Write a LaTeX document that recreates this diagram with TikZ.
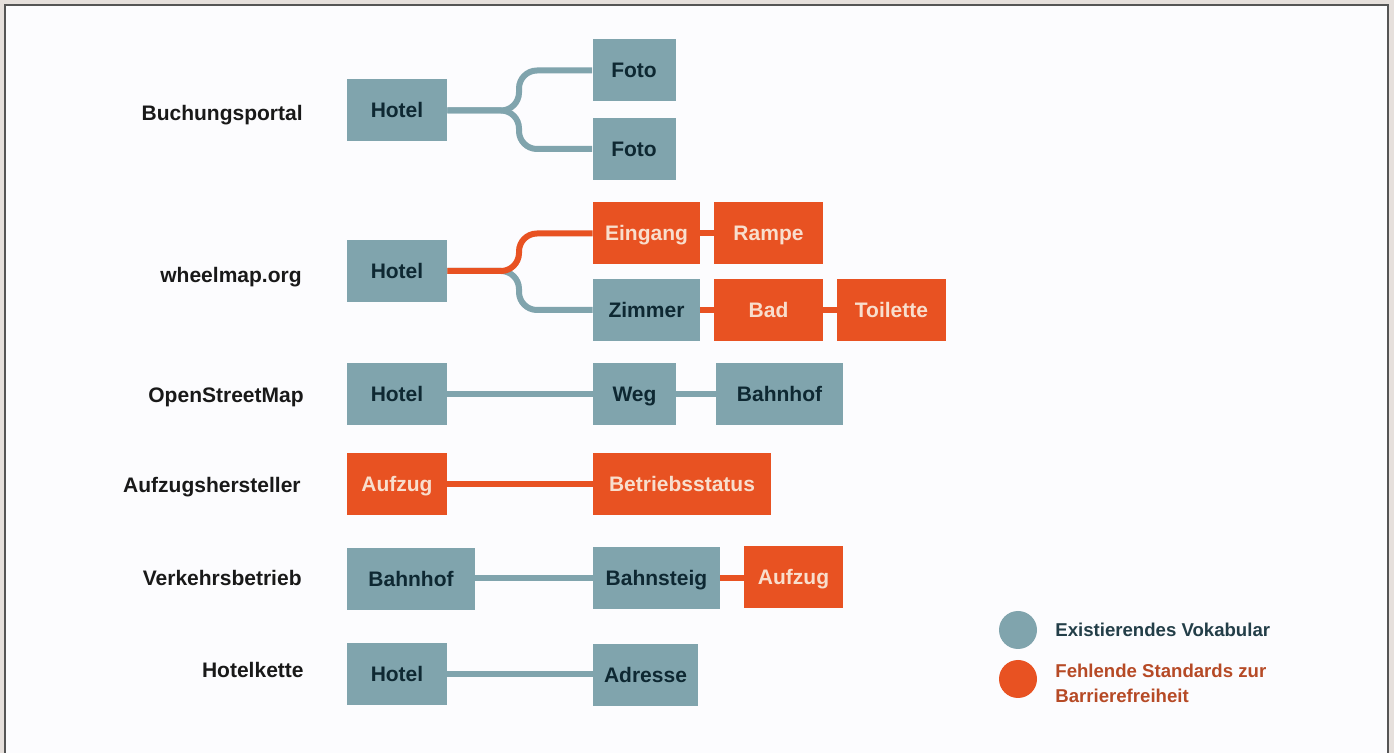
\documentclass[tikz,border=0pt]{standalone}
\usepackage{fontspec}
\setmainfont{Liberation Sans}
\usepackage{tikz}
\usetikzlibrary{positioning}

\definecolor{vocab}{RGB}{128,164,173}
\definecolor{missing}{RGB}{232,82,34}
\definecolor{vocabtext}{RGB}{14,40,50}
\definecolor{missingtext}{RGB}{248,222,205}
\definecolor{legvocab}{RGB}{35,62,72}
\definecolor{legmissing}{RGB}{182,74,38}
\definecolor{framebg}{RGB}{230,224,220}
\definecolor{frameline}{RGB}{85,85,85}
\definecolor{paper}{RGB}{252,252,254}

\begin{document}
\begin{tikzpicture}[x=0.5pt, y=-0.5pt,
    vbox/.style={fill=vocab, text=vocabtext, minimum height=31pt, inner sep=0pt,
      text height=7.5pt, text depth=0pt, font=\bfseries\fontsize{10.5}{12}\selectfont},
    mbox/.style={vbox, fill=missing, text=missingtext},
    source/.style={anchor=base east, text=black!90, inner sep=0pt,
      font=\bfseries\fontsize{10.5}{12}\selectfont},
    vlink/.style={draw=vocab, line width=3pt},
    mlink/.style={draw=missing, line width=3pt},
    legdot/.style={circle, minimum size=19pt, inner sep=0pt}]

  % frame
  \clip (0,0) rectangle (1394,753);
  \fill [framebg] (0,0) rectangle (1394,753);
  \filldraw [fill=paper, draw=frameline, line width=1pt] (5,5) rectangle (1388,770);

  % Buchungsportal
  \node [source] (srcA) at (303,120.5) {Buchungsportal};
  \node [vbox, minimum width=50pt] (hotelA) at (397,110.5) {Hotel};
  \node [vbox, minimum width=41.5pt] (fotoA) at (634,70.5) {Foto};
  \node [vbox, minimum width=41.5pt] (fotoB) at (634,149) {Foto};
  \coordinate (forkA) at (519,110.5);
  \draw [vlink, rounded corners=9pt] (hotelA.east) -- (forkA) |- (fotoA.west);
  \draw [vlink, rounded corners=9pt] (hotelA.east) -- (forkA) |- (fotoB.west);

  % wheelmap.org
  \node [source] (srcB) at (302,283) {wheelmap.org};
  \node [vbox, minimum width=50pt] (hotelB) at (397,271) {Hotel};
  \node [mbox, minimum width=53.5pt] (eingang) at (646.5,233.5) {Eingang};
  \node [mbox, minimum width=54.5pt] (rampe) at (768.5,233.5) {Rampe};
  \node [vbox, minimum width=53.5pt] (zimmer) at (646.5,310) {Zimmer};
  \node [mbox, minimum width=54.5pt] (bad) at (768.5,310) {Bad};
  \node [mbox, minimum width=54.5pt] (toilette) at (891.5,310) {Toilette};
  \coordinate (forkB) at (519,271);
  \draw [vlink, rounded corners=9pt] (hotelB.east) -- (forkB) |- (zimmer.west);
  \draw [mlink, rounded corners=9pt] (hotelB.east) -- (forkB) |- (eingang.west);
  \draw [mlink] (eingang) -- (rampe);
  \draw [mlink] (zimmer) -- (bad);
  \draw [mlink] (bad) -- (toilette);

  % OpenStreetMap
  \node [source] (srcC) at (304,403) {OpenStreetMap};
  \node [vbox, minimum width=50pt] (hotelC) at (397,394) {Hotel};
  \node [vbox, minimum width=41.5pt] (weg) at (634.5,394) {Weg};
  \node [vbox, minimum width=63.5pt] (bahnhofA) at (779.5,394) {Bahnhof};
  \draw [vlink] (hotelC) -- (weg);
  \draw [vlink] (weg) -- (bahnhofA);

  % Aufzugshersteller
  \node [source] (srcD) at (301,493) {Aufzugshersteller};
  \node [mbox, minimum width=50pt] (aufzugA) at (397,484) {Aufzug};
  \node [mbox, minimum width=89pt] (betrieb) at (682,484) {Betriebsstatus};
  \draw [mlink] (aufzugA) -- (betrieb);

  % Verkehrsbetrieb
  \node [source] (srcE) at (302,586) {Verkehrsbetrieb};
  \node [vbox, minimum width=64pt] (bahnhofB) at (411,579) {Bahnhof};
  \node [vbox, minimum width=63.5pt] (bahnsteig) at (656.5,578) {Bahnsteig};
  \node [mbox, minimum width=49.5pt] (aufzugB) at (793.5,577.5) {Aufzug};
  \draw [vlink] (bahnhofB.east |- bahnsteig) -- (bahnsteig);
  \draw [mlink] (bahnsteig) -- (aufzugB.west |- bahnsteig);

  % Hotelkette
  \node [source] (srcF) at (304,678) {Hotelkette};
  \node [vbox, minimum width=50pt] (hotelD) at (397,674) {Hotel};
  \node [vbox, minimum width=52.5pt] (adresse) at (645.5,675.5) {Adresse};
  \draw [vlink] (hotelD) -- (hotelD -| adresse.west);

  % legend
  \node [legdot, fill=vocab] (legA) at (1018,630) {};
  \node [legdot, fill=missing] (legB) at (1018,679) {};
  \node [anchor=west, inner sep=0pt, text=legvocab, font=\bfseries\fontsize{9.3}{12.5}\selectfont]
    (legAtext) at (1055,630) {Existierendes Vokabular};
  \node [anchor=west, inner sep=0pt, align=left, text=legmissing, font=\bfseries\fontsize{9.3}{12.5}\selectfont]
    (legBtext) at (1055,683) {Fehlende Standards zur\\Barrierefreiheit};
\end{tikzpicture}
\end{document}
